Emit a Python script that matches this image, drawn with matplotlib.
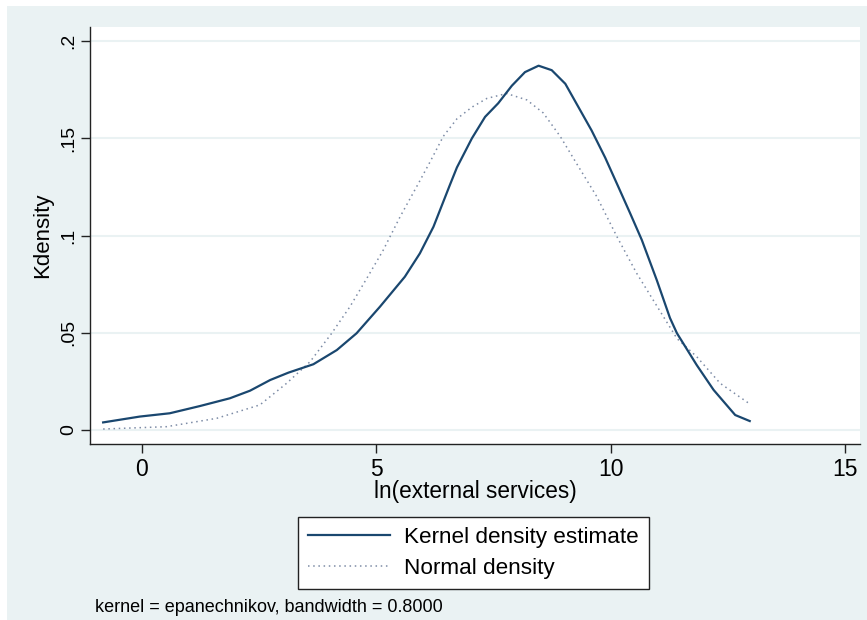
import numpy as np
from matplotlib import pyplot as plt
from matplotlib.patches import Rectangle

plt.rcParams['font.family'] = ['Liberation Sans', 'DejaVu Sans']

# kernel density estimate
kx = [-0.82, -0.04, 0.6, 1.24, 1.88, 2.31, 2.74, 3.13, 3.66, 4.16, 4.58, 5.08,
      5.61, 5.93, 6.22, 6.57, 6.72, 7.04, 7.32, 7.60, 7.89, 8.17, 8.46, 8.74,
      9.03, 9.31, 9.59, 9.88, 10.16, 10.41, 10.66, 10.98, 11.26, 11.41, 11.83,
      12.19, 12.65, 12.96]
ky = [0.0039, 0.0069, 0.0086, 0.0123, 0.0163, 0.0202, 0.0257, 0.0295, 0.0338,
      0.0411, 0.0497, 0.0634, 0.0788, 0.0908, 0.1045, 0.126, 0.135, 0.150,
      0.161, 0.168, 0.177, 0.184, 0.1873, 0.185, 0.178, 0.166, 0.154, 0.140,
      0.125, 0.1115, 0.0977, 0.077, 0.0576, 0.0497, 0.0334, 0.0206, 0.0077,
      0.0046]

# normal density
nx = [-0.82, 0.53, 1.6, 2.52, 2.67, 3.09, 3.59, 4.05, 4.44, 4.80, 5.15, 5.51,
      5.90, 6.15, 6.43, 6.72, 7.04, 7.36, 7.78, 8.21, 8.56, 8.92, 9.27, 9.70,
      10.13, 10.55, 11.12, 11.41, 11.83, 12.33, 12.96]
ny = [0.0005, 0.0017, 0.006, 0.0129, 0.0158, 0.024, 0.0351, 0.0497, 0.0634,
      0.078, 0.0925, 0.1097, 0.1268, 0.138, 0.151, 0.160, 0.166, 0.1705,
      0.173, 0.1697, 0.163, 0.151, 0.137, 0.120, 0.0994, 0.0806, 0.0583,
      0.0470, 0.0377, 0.024, 0.0134]

yticks = [0, 0.05, 0.1, 0.15, 0.2]
ylabels = ['0', '.05', '.1', '.15', '.2']
xticks = [0, 5, 10, 15]

W, H = 867, 620
fig = plt.figure(figsize=(W / 100, H / 100), dpi=100)
fig.patch.set_facecolor('white')
fig.patches.append(Rectangle((7 / W, 0), 1, 1 - 6 / H, transform=fig.transFigure,
                             facecolor='#eaf2f3', edgecolor='none', zorder=-10))

ax = fig.add_axes([90 / W, (H - 444) / H, (860 - 90) / W, (444 - 27) / H])
ax.set_facecolor('white')
ax.set_xlim(-1.10, 15.31)
ax.set_ylim(-0.0072, 0.2072)

for yt in yticks:
    ax.axhline(yt, color='#eaf2f3', lw=1.5, zorder=0)

navy = '#1a476f'
ax.plot(kx, ky, color=navy, lw=1.6, label='Kernel density estimate', zorder=3)
ax.plot(nx, ny, color='#7d8ca6', lw=1.1, ls=(0, (1, 2.4)), label='Normal density', zorder=2)

ax.set_yticks(yticks)
ax.set_yticklabels(ylabels, rotation=90, va='center', fontsize=14)
ax.set_xticks(xticks)
ax.set_xticklabels([str(v) for v in xticks], fontsize=16.5)
ax.tick_params(direction='out', length=6.5, width=1, color='#222222')
ax.tick_params(axis='x', pad=3.5)
ax.tick_params(axis='y', pad=3)

for s in ['top', 'right']:
    ax.spines[s].set_visible(False)
for s in ['left', 'bottom']:
    ax.spines[s].set_color('#222222')
    ax.spines[s].set_linewidth(1)

ax.set_xlabel('ln(external services)', fontsize=16.3)
ax.xaxis.set_label_coords(0.5, (444 - 480) / 417)
ax.xaxis.label.set_va('top')
ax.set_ylabel('Kdensity', fontsize=16)
ax.yaxis.set_label_coords((53 - 90) / 770, 0.5)

leg = fig.legend(loc='upper left', bbox_to_anchor=(298 / W, 1 - 517 / H),
                 fontsize=16.2, handlelength=3.65, handletextpad=0.6,
                 borderpad=0.45, labelspacing=0.42, fancybox=False,
                 framealpha=1, edgecolor='#222222', borderaxespad=0)
leg.get_frame().set_linewidth(1)

fig.text(95 / W, 1 - 607 / H, 'kernel = epanechnikov, bandwidth = 0.8000',
         fontsize=13, va='center', ha='left')

fig.savefig('out.png', dpi=100, facecolor=fig.get_facecolor())
